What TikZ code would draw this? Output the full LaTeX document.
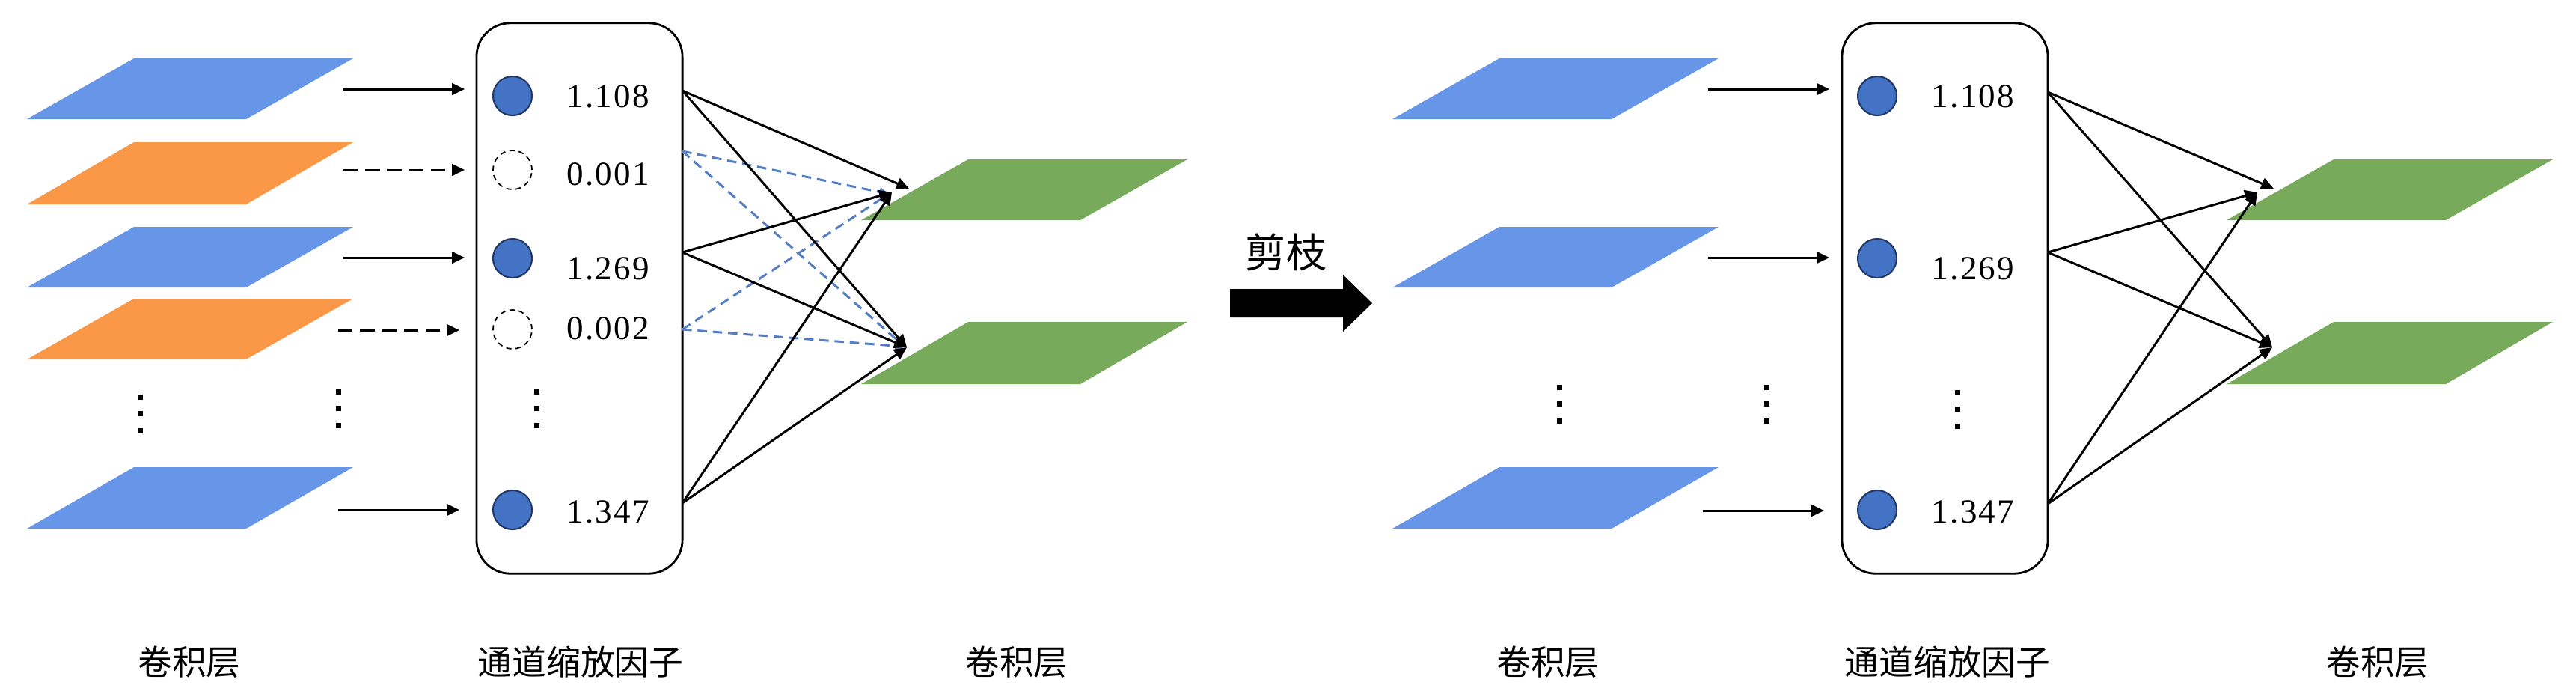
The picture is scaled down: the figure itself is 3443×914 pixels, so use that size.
\documentclass[tikz,border=0pt]{standalone}
\usepackage{fontspec}
\setmainfont{Liberation Serif}
\newfontfamily\cjk{Noto Sans CJK SC}
\newfontfamily\numfont[LetterSpace=5]{Liberation Serif}
\usetikzlibrary{arrows.meta}
\definecolor{planeblue}{RGB}{103,149,232}
\definecolor{planeorange}{RGB}{250,152,72}
\definecolor{planegreen}{RGB}{120,170,92}
\definecolor{chanfill}{RGB}{68,114,196}
\definecolor{chanedge}{RGB}{32,56,100}
\definecolor{linkblue}{RGB}{84,126,196}
\newcommand\plane[4]{\fill[#1] (#2,#4) -- ++(293,0) -- ++(143,#3-#4) -- ++(-293,0) -- cycle;}
\tikzset{
  arr/.style={-{Triangle[length=4.8pt,width=4.4pt]}, line width=0.85pt},
  darr/.style={arr, dash pattern=on 5.5pt off 2.8pt},
  bdash/.style={draw=linkblue, line width=0.85pt, dash pattern=on 3.6pt off 2.2pt, -{Triangle[length=3.6pt,width=3.4pt]}},
  chan/.style={circle, draw=chanedge, fill=chanfill, line width=0.6pt, minimum size=0.52cm, inner sep=0pt},
  dchan/.style={circle, draw=black, dash pattern=on 2pt off 1.6pt, line width=0.5pt, minimum size=0.52cm, inner sep=0pt},
  val/.style={anchor=base west, inner sep=0pt, font=\numfont\fontsize{12.8pt}{14pt}\selectfont},
  lab/.style={inner sep=0pt, font=\cjk\fontsize{13pt}{15pt}\selectfont},
  panel/.style={draw, rounded corners=0.45cm, line width=0.8pt, minimum width=2.75cm, minimum height=7.35cm, inner sep=0pt},
}
\begin{document}
\begin{tikzpicture}[x={(0.01cm,0)}, y={(0,-0.01cm)}]
\useasboundingbox (0,0) rectangle (3443,914);

% ---------------- left half ----------------
\plane{planeblue}{36}{78}{159}
\plane{planeorange}{36}{190}{273}
\plane{planeblue}{36}{303}{384}
\plane{planeorange}{36}{399}{480}
\plane{planeblue}{36}{624}{706}
\plane{planegreen}{1151}{213}{294}
\plane{planegreen}{1151}{430}{513}

\node[panel] (Lbox) at (774.5,398.5) {};
\node[chan]  (Lc1) at (685,128) {};
\node[dchan] (Lc2) at (685,227) {};
\node[chan]  (Lc3) at (685,345) {};
\node[dchan] (Lc4) at (685,440) {};
\node[chan]  (Lc5) at (685,681) {};
\node[val] (Lv1) at (757,143) {1.108};
\node[val] (Lv2) at (757,247) {0.001};
\node[val] (Lv3) at (757,373) {1.269};
\node[val] (Lv4) at (757,453) {0.002};
\node[val] (Lv5) at (757,698) {1.347};

\coordinate (Li1) at (459,119); \coordinate (Le1) at (621,119);
\coordinate (Li2) at (459,227); \coordinate (Le2) at (621,227);
\coordinate (Li3) at (459,344); \coordinate (Le3) at (621,344);
\coordinate (Li4) at (452,441); \coordinate (Le4) at (614,441);
\coordinate (Li5) at (452,681); \coordinate (Le5) at (614,681);
\draw[arr]  (Li1) -- (Le1);
\draw[darr] (Li2) -- (Le2);
\draw[arr]  (Li3) -- (Le3);
\draw[darr] (Li4) -- (Le4);
\draw[arr]  (Li5) -- (Le5);

\coordinate (Lo1) at (912,121);
\coordinate (Lo2) at (912,202);
\coordinate (Lo3) at (912,337);
\coordinate (Lo4) at (912,440);
\coordinate (Lo5) at (912,672);
\coordinate (LgA)  at (1215,252);
\coordinate (LgA2) at (1192,257);
\coordinate (LgAb) at (1188,259);
\coordinate (LgB)  at (1212,464);
\coordinate (LgBb) at (1209,463);
\draw[bdash] (Lo2) -- (LgAb);
\draw[bdash] (Lo2) -- (LgBb);
\draw[bdash] (Lo4) -- (LgAb);
\draw[bdash] (Lo4) -- (LgBb);
\draw[arr] (Lo1) -- (LgA);
\draw[arr] (Lo1) -- (LgB);
\draw[arr] (Lo3) -- (LgA2);
\draw[arr] (Lo3) -- (LgB);
\draw[arr] (Lo5) -- (LgA2);
\draw[arr] (Lo5) -- (LgB);

\foreach \x/\y in {187/530,452/523,717/523}
  \foreach \d in {0,22.5,45}
    \fill (\x-3.5,\y+\d-3.5) rectangle ++(7,7);

\node[lab] (Ll1) at (253,884) {卷积层};
\node[lab] (Ll2) at (776,884) {通道缩放因子};
\node[lab] (Ll3) at (1359,884) {卷积层};

% ---------------- pruning arrow ----------------
\fill (1644,386) -- (1795,386) -- (1795,367) -- (1834,405) -- (1795,443) -- (1795,424) -- (1644,424) -- cycle;
\node[inner sep=0pt, font=\cjk\fontsize{15.4pt}{17pt}\selectfont] (prune) at (1719,337) {剪枝};

% ---------------- right half ----------------
\plane{planeblue}{1861}{78}{159}
\plane{planeblue}{1861}{303}{384}
\plane{planeblue}{1861}{624}{706}
\plane{planegreen}{2976}{213}{294}
\plane{planegreen}{2976}{430}{513}

\node[panel] (Rbox) at (2599.5,398.5) {};
\node[chan] (Rc1) at (2509,128) {};
\node[chan] (Rc3) at (2509,345) {};
\node[chan] (Rc5) at (2509,681) {};
\node[val] (Rv1) at (2581,143) {1.108};
\node[val] (Rv3) at (2581,373) {1.269};
\node[val] (Rv5) at (2581,698) {1.347};

\coordinate (Ri1) at (2283,119); \coordinate (Re1) at (2445,119);
\coordinate (Ri3) at (2283,344); \coordinate (Re3) at (2445,344);
\coordinate (Ri5) at (2276,682); \coordinate (Re5) at (2438,682);
\draw[arr] (Ri1) -- (Re1);
\draw[arr] (Ri3) -- (Re3);
\draw[arr] (Ri5) -- (Re5);

\coordinate (Ro1) at (2737,123);
\coordinate (Ro3) at (2737,337);
\coordinate (Ro5) at (2737,673);
\coordinate (RgA)  at (3039,252);
\coordinate (RgA2) at (3017,257);
\coordinate (RgB)  at (3037,464);
\draw[arr] (Ro1) -- (RgA);
\draw[arr] (Ro1) -- (RgB);
\draw[arr] (Ro3) -- (RgA2);
\draw[arr] (Ro3) -- (RgB);
\draw[arr] (Ro5) -- (RgA2);
\draw[arr] (Ro5) -- (RgB);

\foreach \x/\y in {2084/517,2361/517,2616/524}
  \foreach \d in {0,22.5,45}
    \fill (\x-3.5,\y+\d-3.5) rectangle ++(7,7);

\node[lab] (Rl1) at (2069,884) {卷积层};
\node[lab] (Rl2) at (2603,884) {通道缩放因子};
\node[lab] (Rl3) at (3178,884) {卷积层};
\end{tikzpicture}
\end{document}
